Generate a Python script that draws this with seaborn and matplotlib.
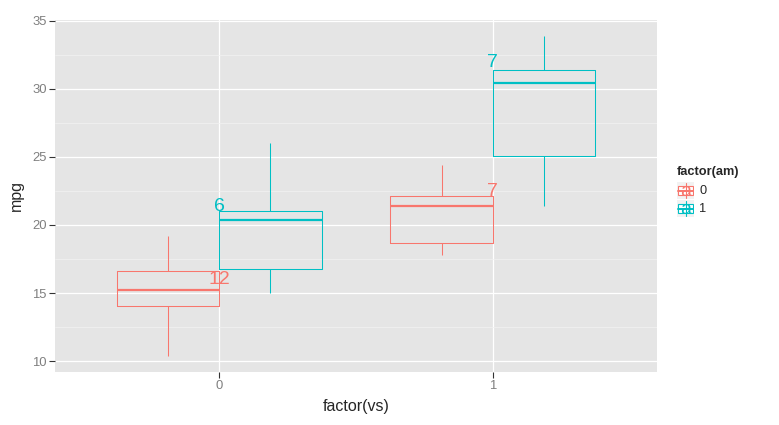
import numpy as np
import pandas as pd
import matplotlib
matplotlib.use('Agg')
import matplotlib.pyplot as plt
import seaborn as sns
from matplotlib.patches import Rectangle

# mtcars mpg split by engine shape (vs) and transmission (am)
mpg_vs0_am0 = [18.7, 14.3, 16.4, 17.3, 15.2, 10.4, 10.4, 14.7, 15.5, 15.2, 13.3, 19.2]
mpg_vs0_am1 = [21.0, 21.0, 26.0, 15.8, 19.7, 15.0]
mpg_vs1_am0 = [21.4, 18.1, 24.4, 22.8, 19.2, 17.8, 21.5]
mpg_vs1_am1 = [22.8, 32.4, 30.4, 33.9, 27.3, 30.4, 21.4]

vs_levels = ['0', '1']
am_levels = ['0', '1']
colors = ['#F8766D', '#00BFC4']

groups = {('0', '0'): mpg_vs0_am0, ('0', '1'): mpg_vs0_am1,
          ('1', '0'): mpg_vs1_am0, ('1', '1'): mpg_vs1_am1}
rows = []
for (vs, am), vals in groups.items():
    for v in vals:
        rows.append({'vs': vs, 'am': am, 'mpg': v})
df = pd.DataFrame(rows)

sns.set_style('white')
plt.rcParams['font.family'] = ['Liberation Sans', 'DejaVu Sans']

fig = plt.figure(figsize=(7.79, 4.25), dpi=100)
ax = fig.add_axes([55 / 779, (425 - 371.7) / 425, (657 - 55) / 779, (371.7 - 19.5) / 425])
ax.set_facecolor('#E5E5E5')

sns.boxplot(data=df, x='vs', y='mpg', hue='am', order=vs_levels, hue_order=am_levels,
            palette=colors, fill=False, width=0.75, gap=0, showcaps=False,
            linewidth=0.75, medianprops={'linewidth': 1.6}, whis=1.5,
            legend=False, ax=ax, zorder=3)
for p in ax.patches:
    p.set_facecolor('white')

# count labels at 1.05 * median, centred on each x category
for i, vs in enumerate(vs_levels):
    for j, am in enumerate(am_levels):
        vals = groups[(vs, am)]
        ax.text(i, np.median(vals) * 1.05, str(len(vals)), color=colors[j],
                ha='center', va='center', fontsize=14, zorder=5)

ax.set_xlim(-0.6, 1.6)
ax.set_ylim(9.225, 35.075)
ax.set_yticks([10, 15, 20, 25, 30, 35])
ax.set_yticks([12.5, 17.5, 22.5, 27.5, 32.5], minor=True)
ax.grid(True, which='major', color='white', linewidth=0.9, zorder=0)
ax.grid(True, which='minor', axis='y', color='#F2F2F2', linewidth=0.5, zorder=0)
ax.set_axisbelow(True)
for s in ax.spines.values():
    s.set_visible(False)
ax.tick_params(which='major', length=4, width=0.8, color='#333333',
               labelcolor='#7F7F7F', labelsize=9.4, pad=2, left=True, bottom=True)
ax.tick_params(which='minor', length=0)
ax.set_xlabel('factor(vs)', fontsize=11.5, labelpad=5)
ax.set_ylabel('mpg', fontsize=11.5, labelpad=6)

# legend drawn as ggplot-style keys
fig.text(677 / 779, 1 - 172 / 425, 'factor(am)', fontsize=9.2, fontweight='bold',
         ha='left', va='center')
for j, am in enumerate(am_levels):
    top = 182 + j * 18
    kax = fig.add_axes([677 / 779, 1 - (top + 17) / 425, 17 / 779, 17 / 425])
    kax.set_xlim(0, 1)
    kax.set_ylim(0, 1)
    kax.axis('off')
    kax.add_patch(Rectangle((0, 0), 1, 1, facecolor='#F2F2F2', edgecolor='none'))
    kax.plot([0.5, 0.5], [0.05, 0.95], color=colors[j], lw=0.8)
    kax.add_patch(Rectangle((0.08, 0.25), 0.84, 0.5, facecolor='white',
                            edgecolor=colors[j], lw=0.8))
    kax.plot([0.08, 0.92], [0.5, 0.5], color=colors[j], lw=1.4)
    kax.text(0.5, 0.42, 'a', color=colors[j], fontsize=14, ha='center', va='center')
    fig.text(699 / 779, 1 - (top + 8.5) / 425, am, fontsize=9.2, ha='left', va='center')

fig.savefig('out.png', dpi=100)
